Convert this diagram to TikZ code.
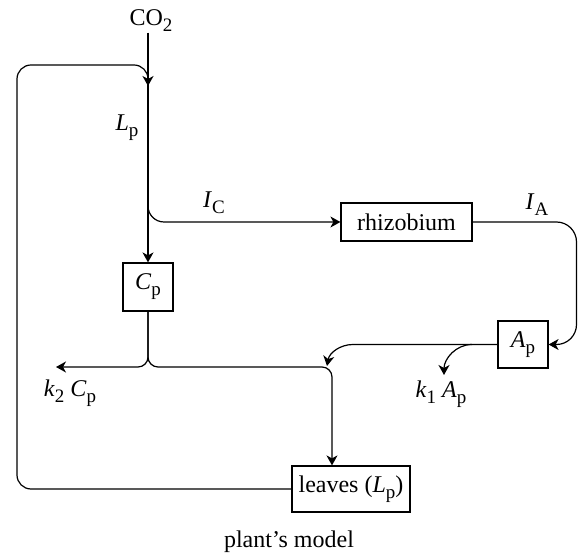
\documentclass[tikz,border=0pt]{standalone}
\usepackage{fontspec}
\setmainfont{Liberation Serif}
\usepackage{tikz}
\usetikzlibrary{arrows.meta, positioning}

% chỉ số dưới kiểu Times
\newcommand{\lowsub}[1]{\raisebox{-3pt}{\fontsize{9.5}{11}\selectfont #1}}
\newcommand{\varsub}[2]{\textit{#1}\lowsub{#2}}

\tikzset{
    box/.style={draw, line width=0.6pt, inner sep=0pt},
    lbl/.style={inner sep=0pt},
}

\begin{document}
\begin{tikzpicture}[>={Stealth[length=5pt, width=5.5pt, inset=1.5pt]}, x=0.5pt, y=-0.5pt,
    line width=0.6pt, font=\fontsize{12}{14}\selectfont]
    \useasboundingbox (0,0) rectangle (578,555);

    % Các khối
    \node[lbl] (co2) at (151,21) {CO\lowsub{2}};
    \node[box, minimum width=25pt, minimum height=24pt] (cp) at (148,287) {\varsub{C}{p}};
    \node[box, minimum width=65.5pt, minimum height=19pt] (rhizo) at (406.5,222) {rhizobium};
    \node[box, minimum width=25pt, minimum height=23.5pt] (ap) at (523,344.5) {\varsub{A}{p}};
    \node[box, minimum width=59pt, minimum height=23pt] (leaves) at (351,489) {leaves (\varsub{L}{p})};

    % Các điểm nối
    \coordinate (fbin) at (148,86);
    \coordinate (fbtop) at (17,65);
    \coordinate (icsplit) at (148,195);
    \coordinate (iaright) at (576.5,280);
    \coordinate (apbend) at (353,344.5);
    \coordinate (apmerge) at (327,366);
    \coordinate (k1split) at (472,344.5);
    \coordinate (k1tip) at (444,375);
    \coordinate (k2tip) at (56,367);
    \coordinate (lvturn) at (332,367);

    % Dòng chính và vòng phản hồi
    \draw[->] (co2.south -| cp) -- (cp);
    \draw[->, rounded corners=7pt] (leaves) -| (fbtop) -| (fbin);
    \draw[->, rounded corners=8pt] (icsplit) |- (rhizo);
    \draw[->, rounded corners=10pt] (rhizo) -| (iaright) |- (ap);

    % Các nhánh ra
    \draw[->] (ap) -- (apbend) to[out=180, in=80] (apmerge);
    \draw[->] (k1split) to[out=180, in=90] (k1tip);
    \draw[->, rounded corners=5pt] (cp) |- (k2tip);
    \draw[->, rounded corners=5pt] (cp) |- (lvturn) -- (lvturn |- leaves.north);

    % Nhãn
    \node[lbl] (lp) at (127,128) {\varsub{L}{p}};
    \node[lbl] (ic) at (214,203) {\varsub{I}{C}};
    \node[lbl] (ia) at (537,205) {\varsub{I}{A}};
    \node[lbl] (k2out) at (70,393) {\varsub{k}{2} \varsub{C}{p}};
    \node[lbl] (k1out) at (441,394) {\varsub{k}{1} \varsub{A}{p}};
    \node[lbl] (title) at (289,542) {plant's model};
\end{tikzpicture}
\end{document}
